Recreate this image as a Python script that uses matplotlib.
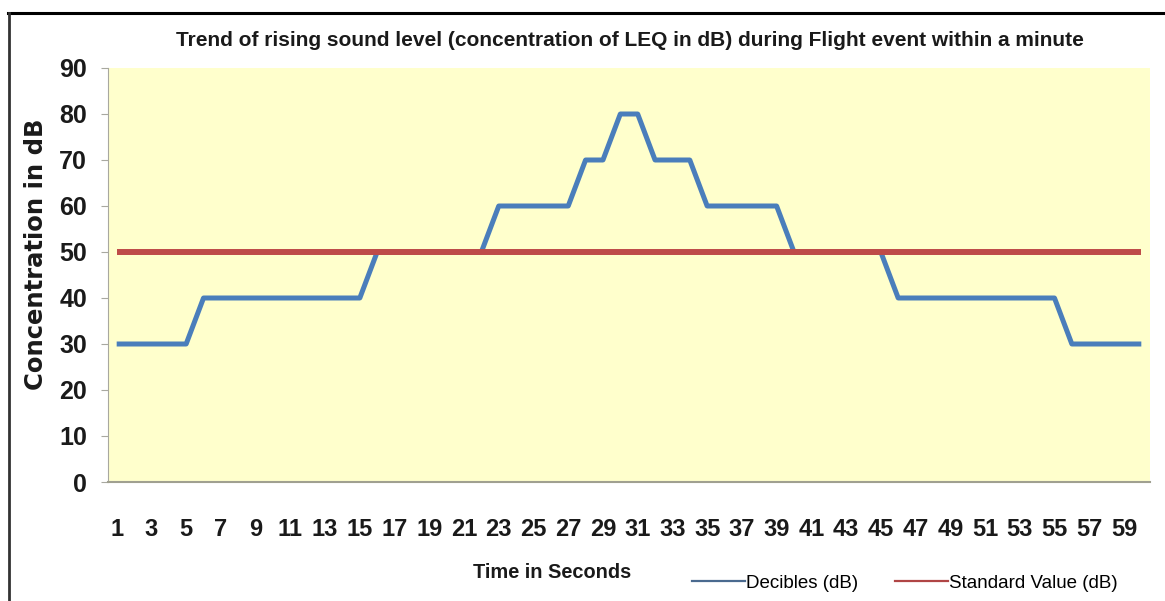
import matplotlib
matplotlib.use("Agg")
import matplotlib.pyplot as plt
from matplotlib import font_manager
from matplotlib.lines import Line2D

# Time axis (seconds) and measured sound levels
seconds = list(range(1, 61))
decibels = [30, 30, 30, 30, 30,
            40, 40, 40, 40, 40, 40, 40, 40, 40, 40,
            50, 50, 50, 50, 50, 50, 50,
            60, 60, 60, 60, 60,
            70, 70,
            80, 80,
            70, 70, 70,
            60, 60, 60, 60, 60,
            50, 50, 50, 50, 50, 50,
            40, 40, 40, 40, 40, 40, 40, 40, 40, 40,
            30, 30, 30, 30, 30]
standard = [50] * 60

tick_seconds = list(range(1, 60, 2))
y_ticks = list(range(0, 100, 10))

title_text = "Trend of rising sound level (concentration of LEQ in dB) during Flight event within a minute"
x_title = "Time in Seconds"
y_title = "Concentration in dB"
series_names = ["Decibles (dB)", "Standard Value (dB)"]

available = {f.name for f in font_manager.fontManager.ttflist}
narrow = "Liberation Sans Narrow" if "Liberation Sans Narrow" in available else "Liberation Sans"

W, H = 1165, 601
fig = plt.figure(figsize=(W / 100, H / 100), dpi=100)
fig.patch.set_facecolor("white")

left, right, top, bottom = 108, 1150, 68, 482
ax = fig.add_axes([left / W, 1 - bottom / H, (right - left) / W, (bottom - top) / H])
ax.set_facecolor("#FFFFCC")

ax.plot(seconds, decibels, color="#4A7EBB", lw=3.6, solid_joinstyle="round",
        solid_capstyle="butt", zorder=3)
ax.plot(seconds, standard, color="#BE4B48", lw=4.3, solid_capstyle="butt", zorder=4)

ax.set_xlim(0.5, 60.5)
ax.set_ylim(0, 90)
ax.set_yticks(y_ticks)
ax.set_xticks(tick_seconds)
ax.set_xticklabels([str(t) for t in tick_seconds])

for s in ("top", "right"):
    ax.spines[s].set_visible(False)
ax.spines["left"].set_color("#A8A8A0")
ax.spines["bottom"].set_color("#A0A090")
ax.spines["bottom"].set_linewidth(1.5)

ax.tick_params(axis="y", direction="out", length=5, width=0.8, color="#A8A8A0",
               pad=10, labelsize=18)
ax.tick_params(axis="x", length=0, pad=26, labelsize=17)
for lab in ax.get_xticklabels() + ax.get_yticklabels():
    lab.set_fontfamily(narrow)
    lab.set_fontweight("bold")
    lab.set_color("#1a1a1a")

fig.text(630 / W, 1 - 40 / H, title_text, ha="center", va="center",
         fontsize=15, fontweight="bold", family=narrow, color="#1a1a1a")
fig.text(552 / W, 1 - 572 / H, x_title, ha="center", va="center",
         fontsize=14.4, fontweight="bold", family=narrow, color="#1a1a1a")
fig.text(36 / W, 1 - 254 / H, y_title, ha="center", va="center", rotation=90,
         fontsize=17.5, fontweight="bold", family="DejaVu Sans", color="#1a1a1a")

handles = [Line2D([], [], color="#4A6A8F", lw=1.6),
           Line2D([], [], color="#B04545", lw=1.6)]
fig.legend(handles, series_names, loc="center left",
           bbox_to_anchor=(692 / W, 1 - 583 / H), ncol=2, frameon=False,
           prop={"family": narrow, "size": 13.5}, handlelength=2.8,
           handletextpad=0.1, columnspacing=1.95, borderpad=0, borderaxespad=0)

# frame lines along the top and left edge
fig.add_artist(Line2D([8 / W, 1], [1 - 13 / H, 1 - 13 / H], color="black", lw=2.2,
                      transform=fig.transFigure))
fig.add_artist(Line2D([9 / W, 9 / W], [0, 1 - 13 / H], color="#333333", lw=2.0,
                      transform=fig.transFigure))

fig.savefig("out.png", dpi=100)
